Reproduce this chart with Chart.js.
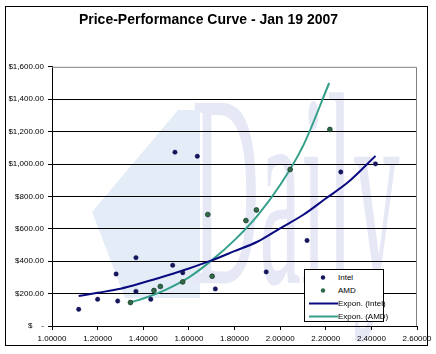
<!DOCTYPE html>
<html>
<head>
<meta charset="utf-8">
<script src="https://cdn.jsdelivr.net/npm/chart.js@4.4.0/dist/chart.umd.min.js"></script>
<style>
  body { margin: 0; background: #fff; }
  #wrap { position: relative; width: 436px; height: 354px; }
  #legend {
    position: absolute; left: 304px; top: 269px; width: 80px; height: 53px;
    border: 1px solid #000; background: #fff; box-sizing: border-box;
    font: 8px "Liberation Sans", Arial, sans-serif; padding-top: 1px;
  }
  .row { height: 13px; line-height: 13px; position: relative; white-space: nowrap; }
  .row .mk { position: absolute; left: 3px; width: 30px; top: 0; height: 13px; }
  .row .tx { position: absolute; left: 33px; top: 0; }
</style>
</head>
<body>
<div id="wrap">
  <canvas id="chart" width="436" height="354"></canvas>
  <div id="legend"></div>
</div>
<script>
// scatter data (score vs price)
const intelX = [1.117, 1.200, 1.288, 1.281, 1.368, 1.368, 1.433, 1.529, 1.539, 1.637, 1.716, 1.573, 1.939, 2.118, 2.266, 2.418];
const intelY = [103, 165, 154, 321, 422, 214, 165, 375, 1073, 1048, 229, 329, 334, 528, 951, 1001];
const amdX = [1.344, 1.447, 1.475, 1.573, 1.702, 1.683, 1.850, 1.896, 2.044, 2.218];
const amdY = [145, 219, 244, 272, 307, 688, 651, 716, 966, 1213];

// trend lines
const intelTrendX = [1.117, 1.2, 1.3, 1.4, 1.5, 1.6, 1.7, 1.8, 1.9, 2.0, 2.1, 2.2, 2.3, 2.418];
const intelTrendY = [185, 205, 230, 268, 310, 355, 405, 462, 520, 603, 685, 787, 890, 1050];
const amdTrendX = [1.343, 1.4, 1.5, 1.6, 1.7, 1.8, 1.9, 2.0, 2.1, 2.215];
const amdTrendY = [146, 170, 225, 300, 405, 530, 680, 870, 1110, 1500];

const xTicks = [1.0, 1.2, 1.4, 1.6, 1.8, 2.0, 2.2, 2.4, 2.6];
const yTicks = [0, 200, 400, 600, 800, 1000, 1200, 1400, 1600];

function pts(xs, ys) {
  return xs.map((x, i) => ({ x: x, y: ys[i] }));
}

const FONT = '"Liberation Sans", Arial, sans-serif';

const frame = {
  id: 'frame',
  beforeDraw(chart) {
    const c = chart.ctx;
    c.save();
    // faint watermark behind the plot
    c.fillStyle = '#e4edf7';
    c.beginPath();
    c.moveTo(92, 212);
    c.lineTo(178, 110);
    c.lineTo(200, 110);
    c.lineTo(200, 298);
    c.lineTo(125, 298);
    c.closePath();
    c.fill();
    c.fillStyle = '#e6e8f6';
    c.font = '275px "Liberation Serif", serif';
    c.textBaseline = 'alphabetic';
    c.translate(192, 283);
    c.scale(0.34, 1);
    c.fillText('Daily', 0, 0);
    c.restore();
  },
  afterDraw(chart) {
    const c = chart.ctx, a = chart.chartArea;
    c.save();
    c.strokeStyle = '#808080';
    c.lineWidth = 1;
    c.beginPath();
    c.moveTo(a.left, a.top + 0.5);
    c.lineTo(a.right - 0.5, a.top + 0.5);
    c.lineTo(a.right - 0.5, a.bottom);
    c.stroke();
    c.strokeStyle = '#000';
    c.strokeRect(5.5, 6.5, 422, 339);
    c.restore();
  }
};

const chart = new Chart(document.getElementById('chart'), {
  type: 'scatter',
  data: {
    datasets: [
      {
        label: 'Intel', data: pts(intelX, intelY),
        backgroundColor: '#15155c', borderColor: '#15155c',
        pointRadius: 2.2, pointBorderWidth: 0.5, order: 1
      },
      {
        label: 'AMD', data: pts(amdX, amdY),
        backgroundColor: '#2f6a48', borderColor: '#1d3b28',
        pointRadius: 2.4, pointBorderWidth: 0.8, order: 1
      },
      {
        label: 'Expon. (Intel)', data: pts(intelTrendX, intelTrendY),
        showLine: true, pointRadius: 0, borderColor: '#0a0a80', borderWidth: 2,
        cubicInterpolationMode: 'monotone', order: 2
      },
      {
        label: 'Expon. (AMD)', data: pts(amdTrendX, amdTrendY),
        showLine: true, pointRadius: 0, borderColor: '#35a08a', borderWidth: 2,
        cubicInterpolationMode: 'monotone', order: 2
      }
    ]
  },
  options: {
    responsive: false,
    animation: false,
    layout: { padding: { left: 0, right: 19, top: 0, bottom: 0 } },
    plugins: {
      legend: { display: false },
      tooltip: { enabled: false },
      title: {
        display: true,
        text: 'Price-Performance Curve - Jan 19 2007',
        color: '#000',
        font: { family: FONT, size: 14, weight: 'bold' },
        padding: { top: 12, bottom: 38 }
      }
    },
    scales: {
      x: {
        type: 'linear', min: 1, max: 2.6,
        afterBuildTicks(s) { s.ticks = xTicks.map(v => ({ value: v })); },
        afterFit(s) { s.height = 28; },
        border: { color: '#000', width: 1 },
        grid: { drawOnChartArea: false, drawTicks: true, tickLength: 4, color: '#000' },
        ticks: {
          color: '#000', padding: 4, maxRotation: 0, autoSkip: false,
          font: { family: FONT, size: 8 },
          callback: v => Number(v).toFixed(5)
        }
      },
      y: {
        type: 'linear', min: 0, max: 1600,
        afterBuildTicks(s) { s.ticks = yTicks.map(v => ({ value: v })); },
        afterFit(s) { s.width = 52; },
        border: { color: '#000', width: 1 },
        grid: {
          color: ctx => ctx.tick && ctx.tick.value === 1600 ? 'rgba(0,0,0,0)' : '#000',
          tickColor: '#000', tickLength: 4, lineWidth: 1
        },
        ticks: {
          color: '#000', padding: 4, autoSkip: false,
          font: { family: FONT, size: 8 },
          callback: v => v === 0 ? '$    -' :
            '$' + Number(v).toLocaleString('en-US', { minimumFractionDigits: 2, maximumFractionDigits: 2 })
        }
      }
    }
  },
  plugins: [frame]
});

// legend box inside the plot, built from the datasets
const legend = document.getElementById('legend');
chart.data.datasets.forEach(ds => {
  const row = document.createElement('div');
  row.className = 'row';
  const mk = document.createElement('canvas');
  mk.className = 'mk';
  mk.width = 30; mk.height = 13;
  const g = mk.getContext('2d');
  if (ds.showLine) {
    g.strokeStyle = ds.borderColor; g.lineWidth = 2;
    g.beginPath(); g.moveTo(1, 6.5); g.lineTo(30, 6.5); g.stroke();
  } else {
    g.fillStyle = ds.backgroundColor;
    g.beginPath(); g.arc(15, 6.5, 2.2, 0, Math.PI * 2); g.fill();
  }
  const tx = document.createElement('span');
  tx.className = 'tx';
  tx.textContent = ds.label;
  row.appendChild(mk); row.appendChild(tx);
  legend.appendChild(row);
});
</script>
</body>
</html>
